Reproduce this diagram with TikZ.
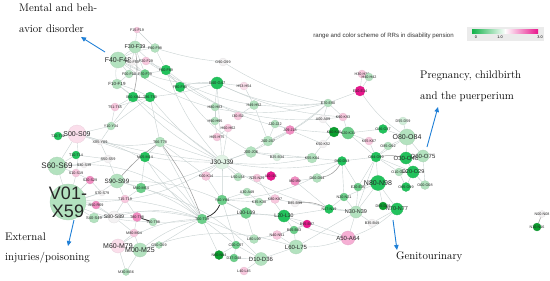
\documentclass[tikz,border=0pt]{standalone}
\usepackage{fontspec}
\setsansfont{Liberation Sans}
\usetikzlibrary{arrows.meta}
\pgfdeclarelayer{edges}
\pgfsetlayers{edges,main}
\definecolor{pg}{HTML}{B3E2BF}
\definecolor{mg}{HTML}{6CCF8A}
\definecolor{bgr}{HTML}{22C25C}
\definecolor{dg}{HTML}{0B9E2E}
\definecolor{wp}{HTML}{F4F2F3}
\definecolor{lp}{HTML}{F8C8DE}
\definecolor{pk}{HTML}{F28DC2}
\definecolor{mag}{HTML}{E8168C}
\definecolor{arrc}{HTML}{1F7FD6}
\definecolor{edg}{HTML}{C9D2D2}
\definecolor{barg}{HTML}{13B24A}
\tikzset{
  gnode/.style={circle,inner sep=0pt,line width=0.3pt},
  glab/.style={inner sep=0pt,align=center,text=black!85},
  e/.style={draw=edg,line width=0.4pt},
  ee/.style={draw=black!38,line width=0.55pt},
  eee/.style={draw=black!85,line width=0.75pt},
  anno/.style={font=\fontsize{11}{13}\selectfont,inner sep=0pt},
  arr/.style={-{Triangle[length=5pt,width=4.5pt]},draw=arrc,line width=0.9pt},
}
\newcommand\gn[7]{\node[gnode,fill=#5,draw=#5!85!gray,minimum size=#4pt,
  label={[glab,font=\fontsize{\fpeval{max(#6,3.7)}}{\fpeval{max(#6,3.7)}}\selectfont\sffamily]center:#7}] (#1) at (#2,#3) {};}
\begin{document}
\begin{tikzpicture}[x=1pt,y=-1pt]
\useasboundingbox (0,0) rectangle (550,281);
% mental cluster
\gn{f1519}{137}{30}{6}{lp}{3.2}{F15-F19}
\gn{f3039}{135}{47}{12}{pg}{5.5}{F30-F39}
\gn{f9098}{155}{48}{9}{pg}{3.2}{F90-F98}
\gn{f4048}{118}{60}{16}{pg}{7}{F40-F48}
\gn{f2029}{146}{61}{8}{lp}{3.2}{F20-F29}
\gn{f5059}{132}{62}{7}{wp}{3.2}{F50-F59}
\gn{f6069}{166}{70}{10}{bgr}{3.2}{F60-F69}
\gn{f0009}{129}{74}{8}{pg}{3.2}{F00-F09}
\gn{f7079}{145}{74}{9}{mg}{3.2}{F70-F79}
\gn{f1019}{117}{84}{10}{pg}{4.5}{F10-F19}
\gn{f8089}{180}{87}{10}{bgr}{3.2}{F80-F89}
\gn{x6084}{133}{97}{10}{bgr}{3.5}{X60-X84}
\gn{t3650}{150}{97}{10}{bgr}{3.5}{T36-T50}
\gn{t5165}{115}{107}{8}{lp}{3.5}{T51-T65}
\gn{y1034}{111}{126}{8}{pg}{3.5}{Y10-Y34}
% injuries cluster
\gn{s0009}{77}{134}{18}{lp!60!white}{7}{S00-S09}
\gn{t2032}{58}{136}{8}{bgr}{3.2}{T20-T32}
\gn{x85y09}{100}{142}{6}{wp}{3.8}{X85-Y09}
\gn{t6678}{160}{142}{10}{pg}{3.5}{T66-T78}
\gn{t1014}{76}{155}{8}{bgr}{3.2}{T10-T14}
\gn{s5059}{108}{159}{8}{wp}{3.8}{S50-S59}
\gn{m0514}{145}{157}{10}{bgr}{3.2}{M05-M14}
\gn{s6069}{57}{166}{18}{pg}{8}{S60-S69}
\gn{s3039}{84}{165}{6}{wp}{3.2}{S30-S39}
\gn{s1019}{76}{173}{8}{lp}{3.2}{S10-S19}
\gn{s2029}{90}{180}{8}{pk}{3.2}{S20-S29}
\gn{s9099}{117}{181}{14}{pg}{6.3}{S90-S99}
\gn{v0159}{68}{202}{36}{pg}{18}{V01-\\X59}
\gn{s7079}{102}{193}{6}{wp}{3}{S70-S79}
\gn{m4054}{141}{188}{10}{mg}{3.5}{M40-M54}
\gn{t1519}{125}{199}{8}{lp}{3.2}{T15-T19}
\gn{r5069}{96}{205}{8}{pk}{3}{R50-R69}
\gn{s4049}{94}{218}{10}{pg}{4}{S40-S49}
\gn{s8089}{114}{217}{12}{wp}{5.2}{S80-S89}
\gn{t8088}{137}{217}{9}{pk}{3.5}{T80-T88}
\gn{t9098}{153}{222}{8}{pg}{3}{T90-T98}
\gn{m8094}{134}{233}{8}{lp}{3.2}{M80-M94}
\gn{m6079}{118}{246}{14}{lp!60!white}{7}{M60-M79}
\gn{m0025}{140}{250}{14}{pg}{7}{M00-M25}
\gn{g5059}{159}{245}{7}{pg}{3}{G50-G59}
\gn{m3036}{126}{272}{7}{pg}{3}{M30-M36}
% upper middle
\gn{g9099}{223}{62}{8}{wp}{3}{G90-G99}
\gn{g4047}{217}{83}{12}{bgr}{4}{G40-G47}
\gn{h5354}{244}{86}{8}{lp!60!white}{3.2}{H53-H54}
\gn{h8083}{215}{107}{8}{pg}{3.2}{H80-H83}
\gn{h4952}{254}{105}{9}{pg}{3.2}{H49-H52}
\gn{i3052}{238}{116}{8}{lp}{3.2}{I30-I52}
\gn{h9095}{215}{121}{8}{pg}{3.2}{H90-H95}
\gn{h6062}{228}{128}{8}{lp}{3.2}{H60-H62}
\gn{h6575}{217}{137}{8}{lp}{3.2}{H65-H75}
\gn{j2022}{275}{124}{8}{pg}{3.2}{J20-J22}
\gn{j0918}{290}{130}{9}{pk}{3.2}{J09-J18}
\gn{j4047}{268}{141}{10}{pg}{4}{J40-J47}
\gn{e7090}{328}{103}{8}{pg}{3.5}{E70-E90}
\gn{k9093}{343}{117}{8}{lp}{3.2}{K90-K93}
\gn{a0009}{323}{119}{8}{wp}{3.5}{A00-A09}
\gn{k4046}{334}{132}{10}{dg}{3.5}{K40-K46}
\gn{k2031}{348}{133}{12}{mg}{3.5}{K20-K31}
\gn{e1014}{360}{91}{10}{mag}{3.5}{E10-E14}
\gn{h3036}{362}{74}{8}{lp}{3}{H30-H36}
\gn{h4042}{369}{77}{8}{pg}{3}{H40-H42}
% pregnancy cluster
\gn{o3637}{383}{129}{9}{bgr}{3}{O36-O37}
\gn{d5559}{403}{121}{8}{pg!60!white}{3}{D55-D59}
\gn{k6567}{369}{141}{8}{lp}{3}{K65-K67}
\gn{o8084}{407}{137}{16}{pg}{7}{O80-O84}
\gn{o8592}{388}{146}{8}{pg}{3}{O85-O92}
\gn{o9499}{376}{157}{10}{bgr}{3.5}{O94-O99}
\gn{o3048}{406}{158}{12}{bgr}{6}{O30-O48}
\gn{o6075}{423}{156}{12}{pg}{6}{O60-O75}
\gn{o1016}{399}{172}{8}{pg}{3}{O10-O16}
\gn{o2029}{413}{172}{12}{bgr}{5.5}{O20-O29}
\gn{o0008}{425}{185}{9}{pg}{3}{O00-O08}
\gn{o9599}{406}{187}{9}{bgr}{3}{O95-O99}
\gn{n8098}{378}{183}{15}{bgr}{7}{N80-N98}
\gn{d6569}{383}{206}{8}{dg}{3}{D65-D69}
\gn{n7077}{397}{209}{12}{bgr}{5.5}{N70-N77}
\gn{b3549}{372}{223}{8}{wp}{3}{B35-B49}
\gn{n0008}{542}{214}{7}{wp}{3}{N00-N08}
\gn{n1016}{537}{227}{8}{dg}{3}{N10-N16}
% lower middle
\gn{j3039}{222}{162}{14}{pg!40!white}{6.5}{J30-J39}
\gn{j0006}{251}{152}{11}{pg}{4}{J00-J06}
\gn{b2534}{277}{157}{8}{pg!50!white}{3.2}{B25-B34}
\gn{k5052}{323}{144}{8}{wp}{3.2}{K50-K52}
\gn{k5564}{312}{158}{10}{pg}{3.5}{K55-K64}
\gn{d5053}{342}{161}{9}{bgr}{3.2}{D50-D53}
\gn{k0014}{206}{176}{9}{lp}{3.5}{K00-K14}
\gn{l5054}{238}{177}{8}{pg}{3.5}{L50-L54}
\gn{n2529}{257}{178}{8}{lp}{3.5}{N25-N29}
\gn{i1015}{271}{176}{9}{mag}{3.5}{I10-I15}
\gn{i8089}{295}{181}{9}{pk}{3.2}{I80-I89}
\gn{d6064}{317}{178}{9}{pg}{3.2}{D60-D64}
\gn{e2035}{358}{187}{8}{mg}{3.2}{E20-E35}
\gn{y4084}{222}{200}{10}{mg}{3.5}{Y40-Y84}
\gn{a3049}{247}{192}{8}{pg}{3}{A30-A49}
\gn{k3538}{259}{202}{8}{pg}{3}{K35-K38}
\gn{k8087}{275}{199}{9}{lp}{3.2}{K80-K87}
\gn{b8599}{295}{203}{8}{wp}{3}{B85-B99}
\gn{n2021}{344}{197}{8}{mg}{3}{N20-N21}
\gn{n1719}{329}{209}{9}{bgr}{3}{N17-N19}
\gn{t0009}{202}{219}{10}{mg}{3.5}{T00-T09}
\gn{l0009}{246}{213}{11}{mg}{5}{L00-L09}
\gn{l2030}{284}{216}{12}{bgr}{5.2}{L20-L30}
\gn{n3039}{356}{212}{12}{pg}{5.5}{N30-N39}
\gn{b9599}{307}{224}{8}{mag}{3}{B95-B97}
\gn{b6583}{294}{230}{8}{mg}{3}{B65-B83}
\gn{n4051}{277}{235}{9}{lp}{3.5}{N40-N51}
\gn{l8099}{254}{239}{9}{pg}{3.5}{L80-L99}
\gn{a5064}{348}{238}{14}{pk!70!white}{6}{A50-A64}
\gn{c0097}{236}{245}{8}{mg}{3}{C00-C97}
\gn{l6075}{296}{247}{14}{pg}{6}{L60-L75}
\gn{n6064}{219}{255}{9}{dg}{3}{N60-N64}
\gn{d3748}{234}{258}{8}{mg}{3}{D37-D48}
\gn{d1036}{261}{259}{13}{pg}{6}{D10-D36}
\gn{l4045}{244}{271}{8}{lp}{3}{L40-L45}
% edges
\begin{pgfonlayer}{edges}
\foreach \a/\b/\c in {
f4048/f3039/0, f4048/f9098/10, f4048/f2029/0, f4048/f5059/0, f4048/f1019/-10, f4048/f0009/0, f4048/f7079/5,
f3039/f9098/0, f3039/f1519/0, f1519/f9098/0, f3039/f0009/0, f3039/f7079/0, f9098/f6069/0, f6069/f7079/0,
f1019/x6084/0, f1019/t3650/5, f1019/f0009/0, f0009/f7079/0, f5059/f7079/0, f2029/f6069/0,
x6084/t5165/0, t3650/t5165/0, t5165/y1034/0, y1034/s0009/0, x6084/y1034/0, t3650/y1034/0, t3650/t6678/0,
f6069/f8089/0, f8089/g4047/10, f4048/g4047/-15, f9098/g9099/-5, f6069/j3039/-10,
s0009/s6069/0, s0009/v0159/10, s0009/x85y09/0, s6069/v0159/0, s6069/s1019/0, s6069/s3039/0,
v0159/s2029/0, v0159/s7079/0, v0159/s4049/0, v0159/r5069/0, v0159/s9099/-10, v0159/s8089/10,
s9099/m4054/0, s9099/s5059/0, s8089/t8088/0, s8089/m8094/0, m8094/m6079/0, m6079/m0025/0,
m0025/g5059/0, m0025/m3036/0, m4054/m0514/0, m0514/t6678/0, t1014/s6069/0, t2032/s0009/0,
t1519/s8089/0, t1519/t8088/0, s5059/x85y09/0, x85y09/t6678/-10, y1034/x85y09/0, s1019/s2029/0,
s3039/s5059/0, t1014/s5059/0, r5069/s8089/0, s4049/s8089/0, m6079/m3036/0, m8094/m0025/0,
s9099/t1519/0, m4054/t1519/0, t8088/m8094/0, s2029/s7079/0,
v0159/j3039/-15, s0009/t0009/20, x85y09/j3039/-10, t6678/j3039/0, t6678/t0009/0, m0514/t0009/-10,
s9099/t0009/10, s8089/t0009/15, t9098/t0009/-5, m0025/t0009/10, g5059/t0009/0, m4054/j3039/-5,
t3650/g4047/-5, g4047/e7090/-15, g9099/e7090/-10, g4047/j3039/0, g4047/h8083/0, g4047/h5354/0,
h5354/h4952/0, h4952/j4047/0, h8083/h9095/0, h9095/h6575/0, h6062/h6575/0, i3052/h4952/0, h6062/j3039/0,
j3039/j0006/0, j0006/j4047/0, j4047/j2022/0, j2022/j0918/0, j4047/j0918/0, j3039/k0014/0, j3039/y4084/0,
y4084/a3049/0, y4084/l0009/0, t0009/l0009/0, l0009/l2030/0, l2030/b6583/0, l2030/n2529/0,
k0014/l5054/0, l5054/i1015/0, i1015/n2529/0, i8089/d6064/0, d5053/k5564/0, k5564/k5052/0,
k5052/k4046/0, k4046/k2031/0, k2031/k9093/0, e7090/k9093/0, e7090/a0009/0, a0009/k4046/0,
e7090/e1014/0, e1014/h3036/0, e1014/h4042/0, e1014/o8084/-10, k2031/o3637/0, o3637/o8084/0,
o8084/o9499/0, o8084/o3048/0, o8084/o6075/0, o8084/d5559/0, o8084/o8592/0, k6567/o9499/0,
o9499/o2029/0, o9499/o1016/0, o9499/n8098/0, o3048/o6075/0, o3048/o2029/0, o2029/o0008/0,
o2029/o9599/0, o1016/o9599/0, o6075/o0008/0, n8098/d6569/0, n8098/n7077/0, n8098/e2035/0,
n8098/n3039/0, n7077/d6569/0, n3039/n2021/0, n2021/n1719/0, n1719/n3039/0, a5064/n3039/0,
a5064/l6075/10, l6075/b6583/0, l6075/d1036/0, d1036/d3748/0, d3748/c0097/0, c0097/n6064/0,
l8099/n4051/0, n4051/b9599/0, b9599/b6583/0, b3549/n7077/0, k5564/b2534/0, b2534/j0006/0,
k3538/k8087/0, k8087/b8599/0, a3049/k3538/0, l4045/d1036/0, l0009/l8099/0, t0009/c0097/0,
j3039/l5054/0, d5053/n2021/0, d5053/e2035/0, o9499/e2035/0, o9499/n3039/0,
n2021/n8098/0, e2035/n3039/0, k2031/o9499/0, l2030/a5064/-10, l2030/n1719/0, l6075/n4051/0,
d1036/c0097/0, l6075/n3039/0, y4084/k3538/0, y4084/c0097/0, t0009/n6064/0, t0009/l8099/0,
y4084/k0014/0, f4048/e7090/-25, f3039/k9093/-25, g4047/k9093/-10, j3039/e7090/-10, f1019/j3039/0,
t6678/k0014/0, j3039/k5564/-8, j3039/d5053/-10, j0006/k5564/0, i8089/n1719/0, j0918/k5052/0,
j4047/e7090/-10, k6567/k2031/0, o8592/o9499/0, d5053/o9499/0, b3549/n3039/0, a5064/n7077/-10,
v0159/t9098/-10, s6069/t0009/25, s0009/j3039/-5, m6079/t0009/15, x6084/j3039/-10,
f2029/e7090/-20, f6069/k2031/-18, t3650/j3039/-8, f8089/j0006/-12, m4054/d1036/15, m0025/l6075/18,
s9099/l0009/14, v0159/t0009/12, j3039/n3039/-12, y4084/d5053/-14, t0009/a5064/16, s4049/t0009/12}
  \draw[e] (\a) to[bend left=\c] (\b);
\draw[ee] (x6084) -- (t3650);
\draw[ee] (o9499) to[bend left=10] (o3048);
\draw[ee] (d5053) to[bend left=25] (d6064);
\draw[ee] (b8599) to[bend left=15] (n1719);
\draw[ee] (n0008) -- (n1016);
\draw[ee] (t6678) to[bend left=8] (t0009);
\draw[ee] (s9099) to[bend left=6] (t6678);
\draw[ee] (f3039) to[bend left=10] (x6084);
\draw[eee] (t0009) to[bend right=22] (y4084);
\draw[eee] (t8088) -- (t9098);
\end{pgfonlayer}
% annotations
\node[anno,anchor=base west] (ment1) at (19,12) {Mental and beh-};
\node[anno,anchor=base west] (ment2) at (19,32) {avior disorder};
\coordinate (a1s) at (105,52); \coordinate (a1e) at (81,37);
\draw[arr] (a1s) -- (a1e);
\node[anno,anchor=base west] (preg1) at (420,78) {Pregnancy, childbirth};
\node[anno,anchor=base west] (preg2) at (420,99) {and the puerperium};
\coordinate (a2s) at (427,147); \coordinate (a2e) at (438,107);
\draw[arr] (a2s) -- (a2e);
\node[anno,anchor=base west] (ext1) at (5,240) {External};
\node[anno,anchor=base west] (ext2) at (5,260) {injuries/poisoning};
\coordinate (a3s) at (74,220); \coordinate (a3e) at (68,246);
\draw[arr] (a3s) -- (a3e);
\node[anno,anchor=base west] (gen) at (396,259) {Genitourinary};
\coordinate (a4s) at (393,220); \coordinate (a4e) at (397,250);
\draw[arr] (a4s) -- (a4e);
% legend
\node[anchor=east,inner sep=0pt,text=black!80,font=\sffamily\fontsize{6.1}{7}\selectfont] (legtxt) at (454,35.5) {range and color scheme of RRs in disability pension};
\fill[black!8] (467,27) rectangle (544,41);
\shade[left color=barg,right color=white] (472,29) rectangle (505.5,33);
\shade[left color=white,right color=mag] (505,29) rectangle (538,33);
\node[inner sep=0pt,font=\sffamily\fontsize{3.8}{4}\selectfont] (l0) at (476,37.5) {0};
\node[inner sep=0pt,font=\sffamily\fontsize{3.8}{4}\selectfont] (l1) at (500,37.5) {1.0};
\node[inner sep=0pt,font=\sffamily\fontsize{3.8}{4}\selectfont] (l3) at (540,37.5) {3.0};
\end{tikzpicture}
\end{document}
